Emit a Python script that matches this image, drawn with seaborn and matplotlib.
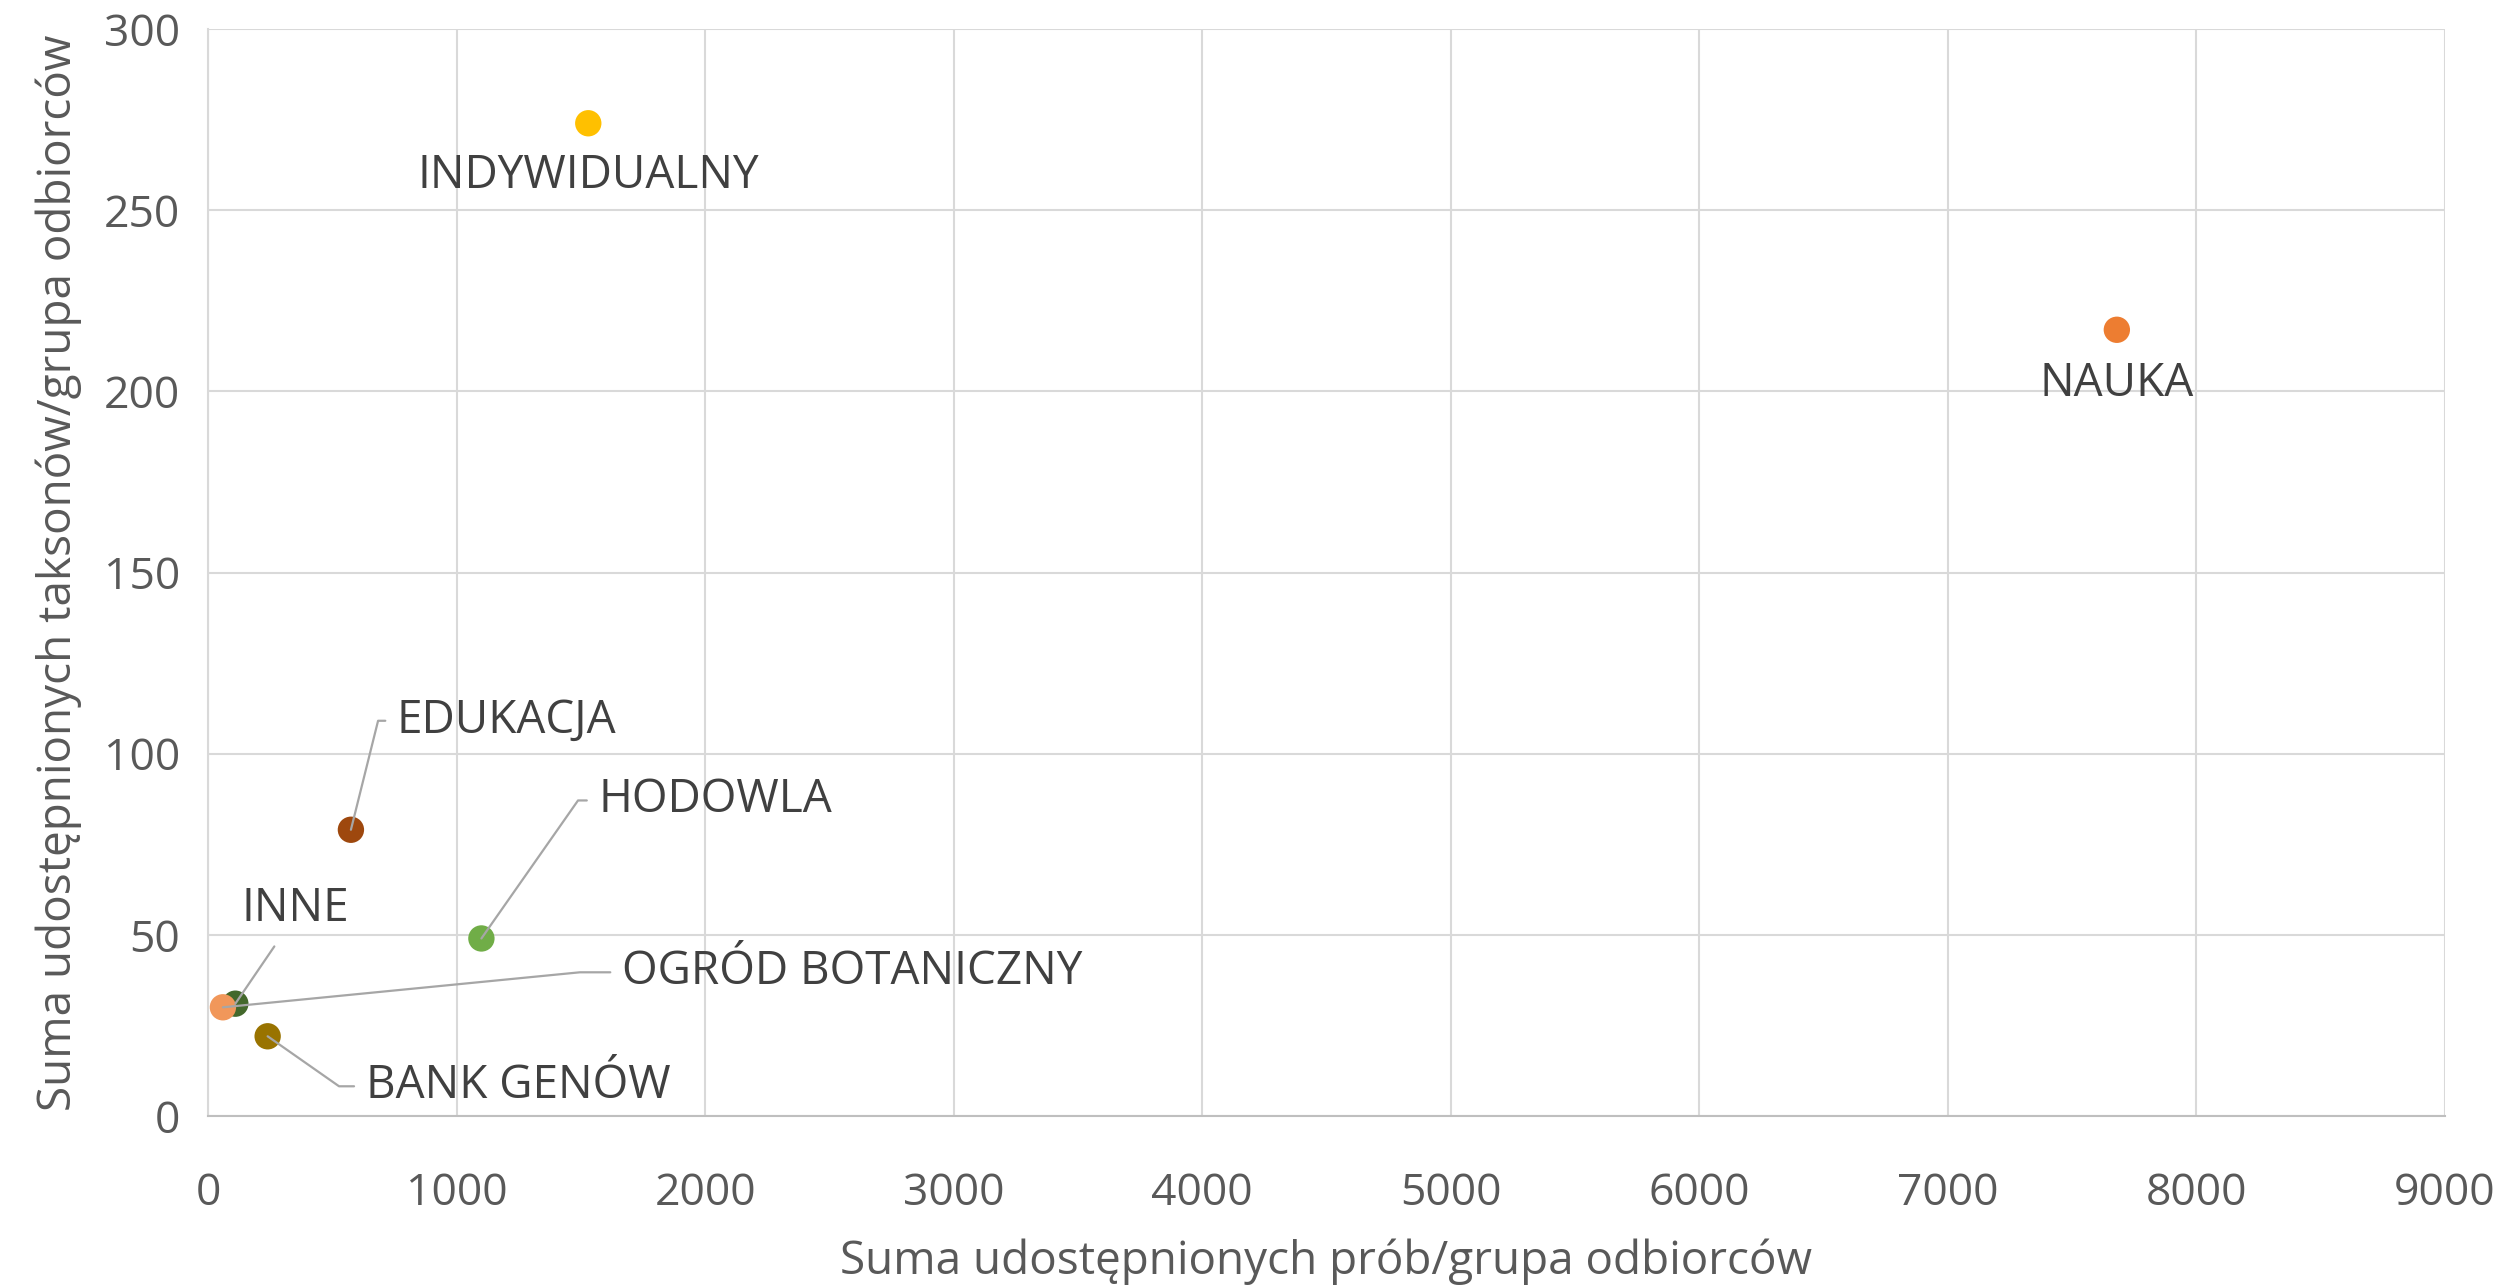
import numpy as np
import pandas as pd
import matplotlib
matplotlib.use("Agg")
import matplotlib.pyplot as plt
import seaborn as sns

# Dane z wykresu
groups = ["NAUKA", "INDYWIDUALNY", "HODOWLA", "EDUKACJA", "BANK GENÓW", "INNE", "OGRÓD BOTANICZNY"]
samples = [7680, 1530, 1100, 575, 240, 110, 60]
taxa = [217, 274, 49, 79, 22, 31, 30]
colors = ["#ED7D31", "#FFC000", "#70AD47", "#9E480E", "#997300", "#43682B", "#F1975A"]

df = pd.DataFrame({"grupa": groups, "proby": samples, "taksony": taxa})

sns.set_theme(style="whitegrid")
plt.rcParams["font.family"] = ["Open Sans", "DejaVu Sans"]

fig = plt.figure(figsize=(25.12, 12.86), dpi=100)
ax = fig.add_axes([0.0828, 0.1322, 0.8905, 0.8452])

sns.scatterplot(data=df, x="proby", y="taksony", hue="grupa", palette=colors,
                s=360, linewidth=0, legend=False, ax=ax, zorder=3)

ax.set_xlim(0, 9000)
ax.set_ylim(0, 300)
ax.set_xticks(np.arange(0, 9001, 1000))
ax.set_yticks(np.arange(0, 301, 50))
ax.grid(True, color="#D9D9D9", linewidth=1.5)
for side in ["top", "right"]:
    ax.spines[side].set_visible(False)
ax.spines["left"].set_color("#D9D9D9")
ax.spines["bottom"].set_color("#BFBFBF")
ax.spines["left"].set_linewidth(1.5)
ax.spines["bottom"].set_linewidth(1.5)
ax.tick_params(axis="both", labelsize=32, colors="#595959", length=0)
ax.tick_params(axis="x", pad=40)
ax.tick_params(axis="y", pad=20)

ax.set_xlabel("Suma udostępnionych prób/grupa odbiorców", fontsize=33, color="#595959", labelpad=16)
ax.set_ylabel("Suma udostępnionych taksonów/grupa odbiorców", fontsize=33, color="#595959", labelpad=16)

# etykiety: (przesunięcie w pikselach, wyrównanie, kąt linii odnośnika)
label_style = {
    "NAUKA": ((0, -54), "center", None),
    "INDYWIDUALNY": ((0, -53), "center", None),
    "EDUKACJA": ((46, 109), "left", 76),
    "HODOWLA": ((117, 138), "left", 55),
    "OGRÓD BOTANICZNY": ((399, 35), "left", 5.6),
    "BANK GENÓW": ((98, -50), "left", -35),
    "INNE": ((6, 95), "left", "straight"),
}

for g, xv, yv in zip(groups, samples, taxa):
    off, ha, ang = label_style[g]
    kw = dict(xy=(xv, yv), xytext=off, textcoords="offset pixels",
              ha=ha, va="center", fontsize=33, color="#404040", zorder=4)
    if ang is None:
        ax.annotate(g, **kw)
    elif ang == "straight":
        ax.annotate(g, arrowprops=dict(arrowstyle="-", color="#A6A6A6", lw=1.6,
                                       relpos=(0.4, 0), shrinkA=10, shrinkB=0), **kw)
    else:
        ax.annotate(g, arrowprops=dict(arrowstyle="-", color="#A6A6A6", lw=1.6,
                                       relpos=(0, 0.5), shrinkA=6, shrinkB=0,
                                       connectionstyle=f"angle,angleA=0,angleB={ang},rad=0"),
                    **kw)

plt.savefig("out.png", dpi=100)
plt.close()
